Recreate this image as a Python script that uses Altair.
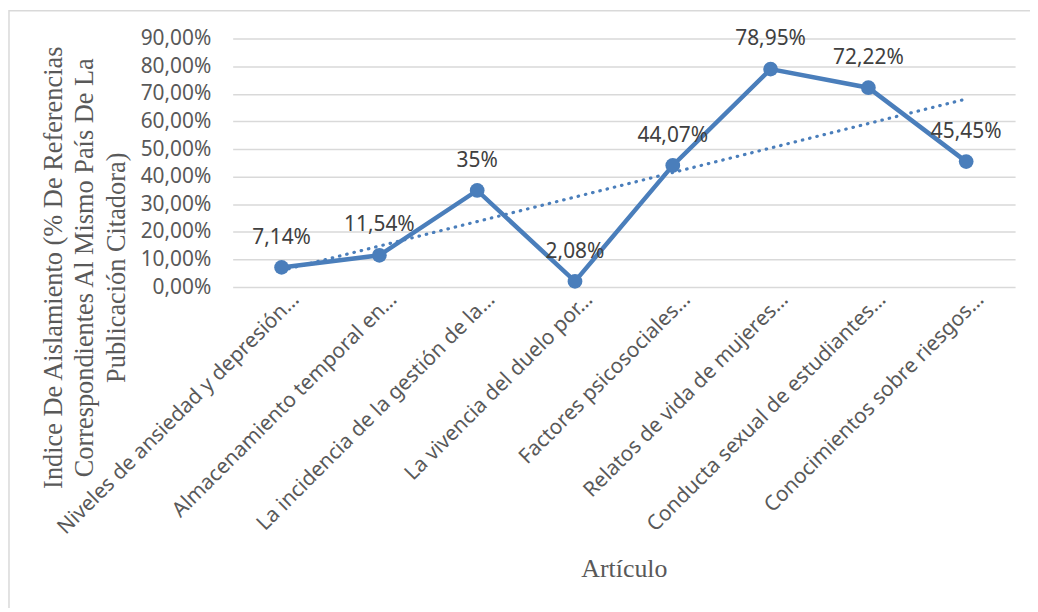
import json
import altair as alt
import pandas as pd

articulos = [
    "Niveles de ansiedad y depresión…",
    "Almacenamiento temporal en…",
    "La incidencia de la gestión de la…",
    "La vivencia del duelo por…",
    "Factores psicosociales…",
    "Relatos de vida de mujeres…",
    "Conducta sexual de estudiantes…",
    "Conocimientos sobre riesgos…",
]
indice = [7.14, 11.54, 35.0, 2.08, 44.07, 78.95, 72.22, 45.45]
etiquetas = ["7,14%", "11,54%", "35%", "2,08%", "44,07%", "78,95%", "72,22%", "45,45%"]
y_ticks = [0, 10, 20, 30, 40, 50, 60, 70, 80, 90]
y_title = [
    "Indice De Aislamiento (% De Referencias",
    "Correspondientes Al Mismo País De La",
    "Publicación Citadora)",
]
x_title = "Artículo"

pos = list(range(1, len(articulos) + 1))
df = pd.DataFrame({"pos": pos, "articulo": articulos, "indice": indice, "etiqueta": etiquetas})

BLUE = "#4A7EBB"
SANS = "Noto Sans"
label_expr = json.dumps(articulos, ensure_ascii=False) + "[datum.value - 1]"

x_enc = alt.X(
    "pos:Q",
    scale=alt.Scale(domain=[0.5, len(articulos) + 0.5], nice=False, zero=False),
    axis=alt.Axis(
        values=pos,
        labelExpr=label_expr,
        labelAngle=-45,
        labelAlign="right",
        labelBaseline="middle",
        labelFlush=False,
        labelOverlap=False,
        labelLimit=0,
        grid=False,
        ticks=False,
        tickSize=0,
        domain=False,
        labelFont=SANS,
        labelFontSize=21,
        labelColor="#595959",
        labelPadding=9,
        labelOffset=14,
        title=x_title,
        titleFont="Liberation Serif",
        titleFontSize=26,
        titleFontWeight="normal",
        titleColor="#595959",
        titleY=291,
        titleBaseline="alphabetic",
    ),
)

y_enc = alt.Y(
    "indice:Q",
    scale=alt.Scale(domain=[0, 90], nice=False),
    axis=alt.Axis(
        values=y_ticks,
        tickCount=10,
        labelExpr="replace(format(datum.value, '.2f'), '.', ',') + '%'",
        labelFont=SANS,
        labelFontSize=21,
        labelColor="#595959",
        labelPadding=22,
        labelOverlap=False,
        ticks=False,
        tickSize=0,
        domain=False,
        grid=True,
        gridColor="#D9D9D9",
        gridWidth=1.5,
        title=y_title,
        titleFont="Liberation Serif",
        titleFontSize=26.5,
        titleFontWeight="normal",
        titleColor="#595959",
        titleAngle=270,
        titleAlign="center",
        titleBaseline="alphabetic",
        titleX=-172,
        titleY=230,
        titleLineHeight=31.5,
    ),
)

base = alt.Chart(df).encode(x=x_enc, y=y_enc)

line = base.mark_line(color=BLUE, strokeWidth=4.5)
points = base.mark_point(filled=True, color=BLUE, size=220, opacity=1)
trend = (
    base.transform_regression("pos", "indice", method="linear")
    .mark_line(color=BLUE, strokeWidth=3.2, strokeDash=[0.5, 7], strokeCap="round")
)
labels = base.mark_text(
    font=SANS, fontSize=21, color="#404040", baseline="alphabetic", align="center", dy=-24
).encode(text="etiqueta:N")

border = alt.Chart(pd.DataFrame({"b": [0]})).mark_rect(
    fillOpacity=0, stroke="#D9D9D9", strokeWidth=1.5
).encode(x=alt.value(-225), x2=alt.value(840), y=alt.value(-28), y2=alt.value(720))

chart = (
    alt.layer(line, points, trend, labels, border)
    .properties(
        width=787,
        height=250,
        autosize=alt.AutoSizeParams(type="none"),
        padding={"left": 226, "top": 29, "right": 15, "bottom": 321},
        background="white",
    )
    .configure_view(stroke=None)
)

chart.save("out.html", embed_options={"renderer": "svg", "actions": False})
